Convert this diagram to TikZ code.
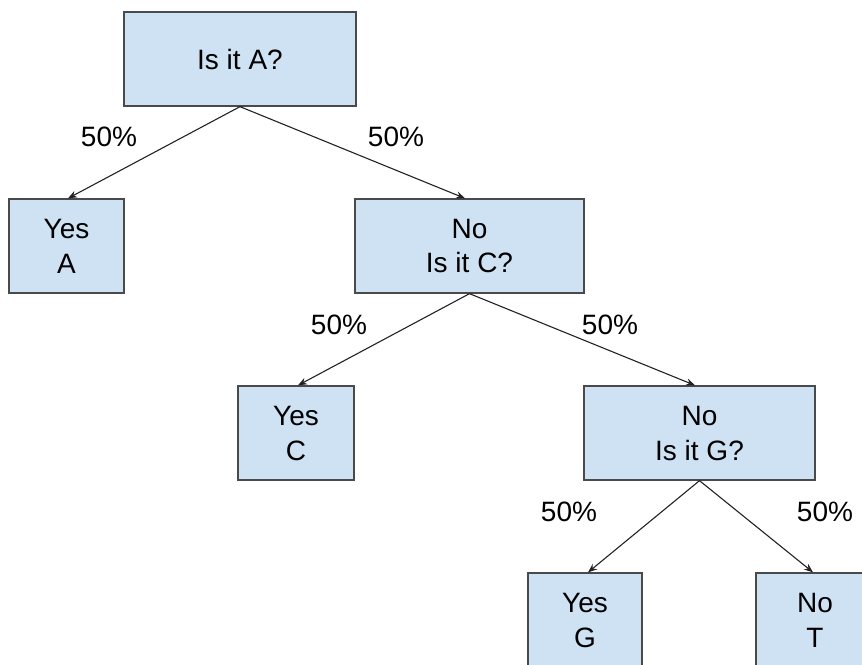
\documentclass[tikz,border=0pt]{standalone}
\usepackage{fontspec}
\setmainfont{Liberation Sans}
\usetikzlibrary{arrows.meta}
\definecolor{boxfill}{HTML}{CFE2F3}
\definecolor{boxline}{HTML}{4A4A4A}
\definecolor{edgeline}{HTML}{222222}
\begin{document}
\begin{tikzpicture}[x=1pt,y=-1pt,
  decision/.style={draw=boxline,line width=1.3pt,fill=boxfill,
    minimum height=94pt,inner sep=0pt,align=center,
    font=\fontsize{28}{35}\selectfont},
  prob/.style={font=\fontsize{28}{32}\selectfont,inner sep=0pt},
  branch/.style={draw=edgeline,line width=1.1pt,
    -{Stealth[length=9pt,width=7pt]}}]
\useasboundingbox (0,0) rectangle (862,664);
\clip (0,0) rectangle (862,664);
% question and answer boxes
\node[decision,minimum width=232pt] (qa) at (240,59) {Is it A?};
\node[decision,minimum width=115pt] (ya) at (66.5,246) {Yes\\A};
\node[decision,minimum width=229pt] (qc) at (469.5,246) {No\\Is it C?};
\node[decision,minimum width=116pt] (yc) at (296,433) {Yes\\C};
\node[decision,minimum width=231pt] (qg) at (699.5,433) {No\\Is it G?};
\node[decision,minimum width=114pt] (yg) at (585,620) {Yes\\G};
\node[decision,minimum width=118pt] (nt) at (815,620) {No\\T};
% branch probabilities
\node[prob] (pa1) at (109,137) {50\%};
\node[prob] (pa2) at (396,137) {50\%};
\node[prob] (pc1) at (339,325) {50\%};
\node[prob] (pc2) at (610,325) {50\%};
\node[prob] (pg1) at (569,512) {50\%};
\node[prob] (pg2) at (825,512) {50\%};
% branches
\draw[branch] (qa.south) -- ([xshift=1.5pt]ya.north);
\draw[branch] (qa.south) -- ([xshift=-4.5pt]qc.north);
\draw[branch] (qc.south) -- ([xshift=2pt]yc.north);
\draw[branch] (qc.south) -- ([xshift=-4.5pt]qg.north);
\draw[branch] (qg.south) -- ([xshift=3pt]yg.north);
\draw[branch] (qg.south) -- ([xshift=-2pt]nt.north);
\end{tikzpicture}
\end{document}
